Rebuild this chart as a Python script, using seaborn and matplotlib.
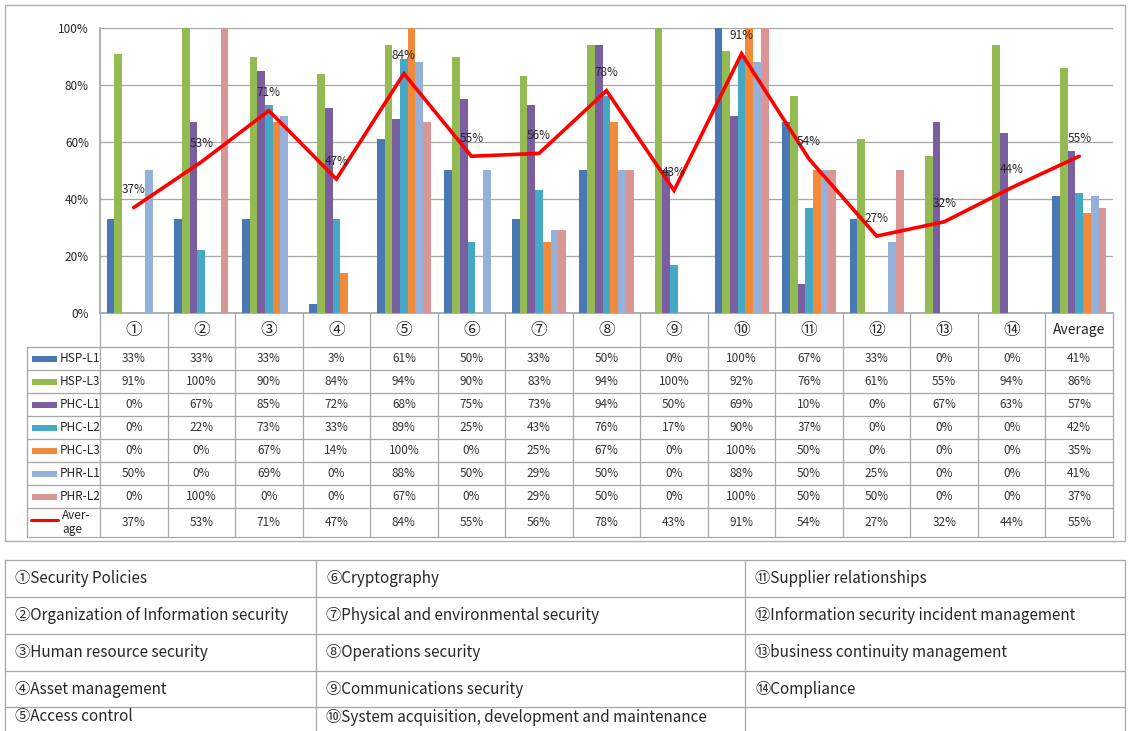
import numpy as np
import pandas as pd
import matplotlib
matplotlib.use("Agg")
import matplotlib.pyplot as plt
import seaborn as sns
from matplotlib.patches import Rectangle
from matplotlib.lines import Line2D

# ---------------- data ----------------
categories = ["①", "②", "③", "④", "⑤", "⑥", "⑦", "⑧", "⑨", "⑩", "⑪", "⑫", "⑬", "⑭", "Average"]
series_names = ["HSP-L1", "HSP-L3", "PHC-L1", "PHC-L2", "PHC-L3", "PHR-L1", "PHR-L2"]
hsp_l1 = [33, 33, 33, 3, 61, 50, 33, 50, 0, 100, 67, 33, 0, 0, 41]
hsp_l3 = [91, 100, 90, 84, 94, 90, 83, 94, 100, 92, 76, 61, 55, 94, 86]
phc_l1 = [0, 67, 85, 72, 68, 75, 73, 94, 50, 69, 10, 0, 67, 63, 57]
phc_l2 = [0, 22, 73, 33, 89, 25, 43, 76, 17, 90, 37, 0, 0, 0, 42]
phc_l3 = [0, 0, 67, 14, 100, 0, 25, 67, 0, 100, 50, 0, 0, 0, 35]
phr_l1 = [50, 0, 69, 0, 88, 50, 29, 50, 0, 88, 50, 25, 0, 0, 41]
phr_l2 = [0, 100, 0, 0, 67, 0, 29, 50, 0, 100, 50, 50, 0, 0, 37]
average = [37, 53, 71, 47, 84, 55, 56, 78, 43, 91, 54, 27, 32, 44, 55]
y_ticks = [0, 20, 40, 60, 80, 100]

legend_col1 = ["①Security Policies", "②Organization of Information security",
               "③Human resource security", "④Asset management", "⑤Access control"]
legend_col2 = ["⑥Cryptography", "⑦Physical and environmental security", "⑧Operations security",
               "⑨Communications security", "⑩System acquisition, development and maintenance"]
legend_col3 = ["⑪Supplier relationships", "⑫Information security incident management",
               "⑬business continuity management", "⑭Compliance", ""]

series_values = [hsp_l1, hsp_l3, phc_l1, phc_l2, phc_l3, phr_l1, phr_l2]
colors = ["#4A78B4", "#94BA52", "#7A5FA0", "#45A8C4", "#F28A3C", "#93B1DA", "#D99694"]
palette = dict(zip(series_names, colors))

rows = []
for name, vals in zip(series_names, series_values):
    for c, v in zip(categories, vals):
        rows.append({"category": c, "series": name, "value": v / 100})
df = pd.DataFrame(rows)

# ---------------- figure ----------------
sns.set_theme(style="white")
plt.rcParams["font.family"] = ["Noto Sans CJK KR", "DejaVu Sans"]

W, H = 1130, 731
fig = plt.figure(figsize=(W / 100, H / 100), dpi=100)
fig.patch.set_facecolor("white")

# overlay axes in pixel coordinates (for table / frames)
ov = fig.add_axes([0, 0, 1, 1])
ov.set_xlim(0, W)
ov.set_ylim(H, 0)
ov.axis("off")
ov.patch.set_alpha(0)

PL, PR, PT, PB = 100, 1113, 28, 313
ax = fig.add_axes([PL / W, 1 - PB / H, (PR - PL) / W, (PB - PT) / H])
ax.patch.set_alpha(0)

sns.barplot(data=df, x="category", y="value", hue="series", order=categories,
            hue_order=series_names, palette=palette, saturation=1, width=0.8,
            legend=False, ax=ax, zorder=3, linewidth=0, edgecolor="none")

xpos = np.arange(len(categories))
avg = np.array(average) / 100
ax.plot(xpos, avg, color="#FF0000", lw=2.6, zorder=6, solid_joinstyle="miter")
for i, v in enumerate(average):
    ax.annotate(f"{v}%", xy=(i, v / 100), xytext=(0, 18), textcoords="offset pixels",
                ha="center", va="center", fontsize=8.5, color="#262626", zorder=7)

ax.set_xlim(-0.5, len(categories) - 0.5)
ax.set_ylim(0, 1)
ax.set_yticks([t / 100 for t in y_ticks])
ax.set_yticklabels([f"{t}%" for t in y_ticks], fontsize=8.5, color="#262626")
ax.tick_params(axis="y", length=0, pad=8)
ax.set_xticks([])
ax.set_xlabel("")
ax.set_ylabel("")
ax.yaxis.grid(True, color="#A6A6A6", lw=0.9)
ax.set_axisbelow(True)
for s in ["top", "right"]:
    ax.spines[s].set_visible(False)
ax.spines["left"].set_color("#A6A6A6")
ax.spines["bottom"].set_color("#A6A6A6")

# ---------------- chart frame ----------------
ov.add_patch(Rectangle((5, 5), 1120, 536, fill=False, ec="#B0B0B0", lw=1.0))

# ---------------- data table ----------------
lc = "#A6A6A6"
ncat = len(categories)
col_edges = [PL + i * (PR - PL) / ncat for i in range(ncat + 1)]
row_edges = [313, 347, 370, 393, 416, 439, 462, 485, 508, 537]
TL = 27
for y in row_edges[1:]:
    ov.add_line(Line2D([TL, PR], [y, y], color=lc, lw=0.9))
for x in col_edges:
    ov.add_line(Line2D([x, x], [313, row_edges[-1]], color=lc, lw=0.9))
ov.add_line(Line2D([TL, TL], [row_edges[1], row_edges[-1]], color=lc, lw=0.9))

for j, c in enumerate(categories):
    cx = (col_edges[j] + col_edges[j + 1]) / 2
    cy = (row_edges[0] + row_edges[1]) / 2
    ov.text(cx, cy, c, ha="center", va="center",
            fontsize=12 if c != "Average" else 10, color="#262626")

table_series = series_values + [average]
for r, vals in enumerate(table_series):
    cy = (row_edges[r + 1] + row_edges[r + 2]) / 2
    for j, v in enumerate(vals):
        cx = (col_edges[j] + col_edges[j + 1]) / 2
        ov.text(cx, cy, f"{v}%", ha="center", va="center", fontsize=8.5, color="#333333")

for r, name in enumerate(series_names):
    cy = (row_edges[r + 1] + row_edges[r + 2]) / 2
    ov.add_patch(Rectangle((32, cy - 3), 25, 6, color=colors[r], lw=0))
    ov.text(60, cy, name, ha="left", va="center", fontsize=8.5, color="#262626")
cy = (row_edges[8] + row_edges[9]) / 2
ov.add_line(Line2D([31, 58], [cy - 3, cy - 3], color="#FF0000", lw=2.2))
ov.text(62, cy, "Aver-\nage", ha="left", va="center", fontsize=8.5, color="#262626",
        linespacing=1.1)

# ---------------- bottom legend table ----------------
b_rows = [560, 597, 634, 671, 707, 745]
b_cols = [5, 316, 745, 1125]
for y in b_rows[:-1]:
    ov.add_line(Line2D([b_cols[0], b_cols[-1]], [y, y], color=lc, lw=0.9))
for x in b_cols:
    ov.add_line(Line2D([x, x], [b_rows[0], H], color=lc, lw=0.9))
for ci, col in enumerate([legend_col1, legend_col2, legend_col3]):
    for ri, txt in enumerate(col):
        if not txt:
            continue
        cy = (b_rows[ri] + b_rows[ri + 1]) / 2
        if ri == 4:
            cy = 717
        ov.text(b_cols[ci] + 10, cy, txt, ha="left", va="center", fontsize=11,
                color="#262626")

fig.savefig("out.png", dpi=100, facecolor="white")
